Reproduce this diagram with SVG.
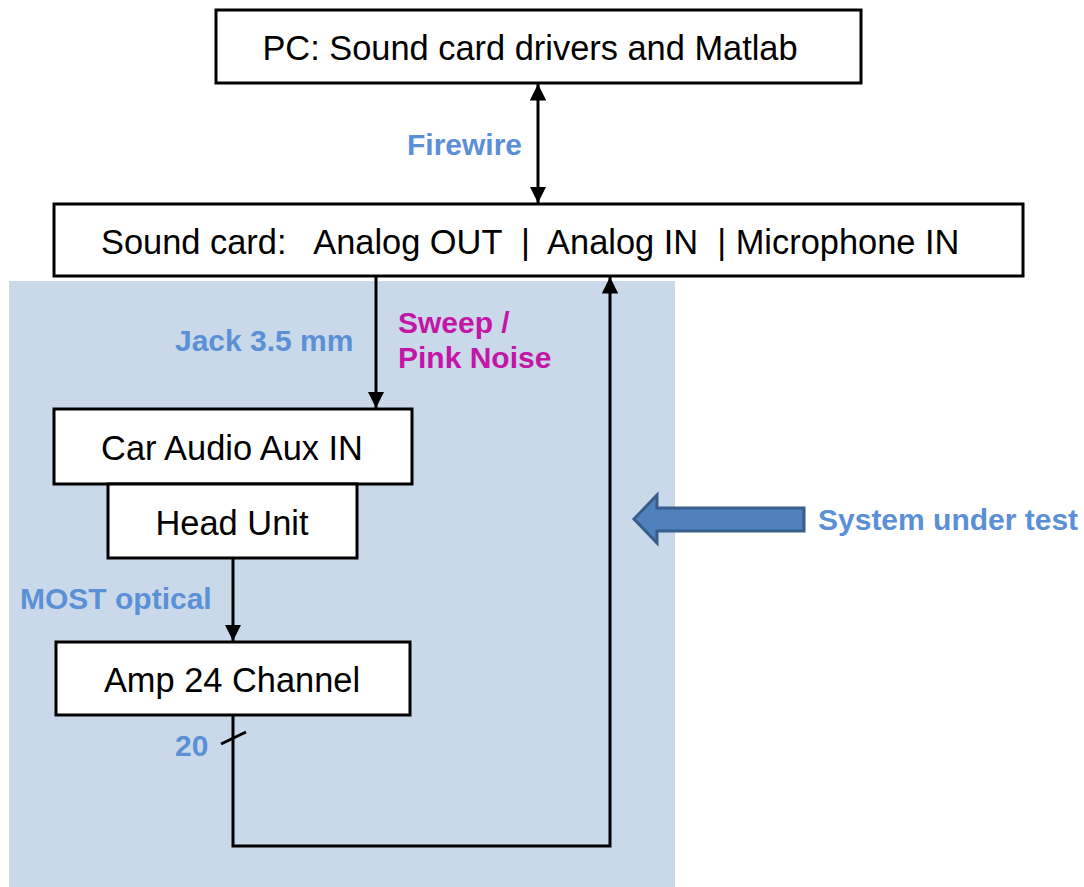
<svg xmlns="http://www.w3.org/2000/svg" width="1084" height="887" viewBox="0 0 1084 887">
<style>
.box{fill:#fff;stroke:#000;stroke-width:3}
.bt{font-family:"Liberation Sans",Arial,sans-serif;font-size:34.4px;fill:#000}
.lb{font-family:"Liberation Sans",Arial,sans-serif;font-size:30px;font-weight:bold;fill:#5b8fd6}
.mg{font-family:"Liberation Sans",Arial,sans-serif;font-size:30px;font-weight:bold;fill:#c416a6}
.ln{fill:none;stroke:#000;stroke-width:3}
</style>
<defs>
<marker id="ah" viewBox="0 0 10 10" refX="10" refY="5" markerWidth="5.5" markerHeight="5.5" orient="auto-start-reverse" markerUnits="strokeWidth">
<path d="M0,0 L10,5 L0,10 z" fill="#000"/>
</marker>
</defs>
<rect x="9" y="281" width="666" height="606" fill="#c9d9ea"/>
<g id="pc"><rect class="box" x="216" y="10" width="645" height="73"/><text class="bt" x="530" y="60" text-anchor="middle">PC: Sound card drivers and Matlab</text></g>
<g id="soundcard"><rect class="box" x="54" y="204" width="969" height="72"/><text class="bt" x="101" y="254" xml:space="preserve">Sound card:   Analog OUT  |  Analog IN  | Microphone IN</text></g>
<g id="aux"><rect class="box" x="54" y="409" width="358" height="75"/><text class="bt" x="232" y="460" text-anchor="middle">Car Audio Aux IN</text></g>
<g id="headunit"><rect class="box" x="108" y="484" width="249" height="74"/><text class="bt" x="232" y="535" text-anchor="middle">Head Unit</text></g>
<g id="amp"><rect class="box" x="56" y="642" width="354" height="73"/><text class="bt" x="232" y="692" text-anchor="middle">Amp 24 Channel</text></g>
<g id="connectors">
<line class="ln" x1="538" y1="84" x2="538" y2="203" marker-start="url(#ah)" marker-end="url(#ah)"/>
<line class="ln" x1="376" y1="277" x2="376" y2="408" marker-end="url(#ah)"/>
<line class="ln" x1="233" y1="559" x2="233" y2="641" marker-end="url(#ah)"/>
<polyline class="ln" points="233,716 233,846 610,846 610,277" marker-end="url(#ah)"/>
<line class="ln" x1="221" y1="744" x2="246" y2="732"/>
</g>
<g id="labels">
<text class="lb" x="407" y="155">Firewire</text>
<text class="lb" x="175" y="351">Jack 3.5 mm</text>
<text class="mg" x="398" y="333">Sweep /</text>
<text class="mg" x="398" y="368">Pink Noise</text>
<text class="lb" x="20" y="609">MOST optical</text>
<text class="lb" x="175" y="756">20</text>
<text class="lb" x="818" y="530">System under test</text>
</g>
<g id="sut-arrow"><polygon points="634,519 657,495 657,508 804,508 804,531 657,531 657,543" fill="#4f81bd" stroke="#385d8a" stroke-width="3"/></g>
</svg>
